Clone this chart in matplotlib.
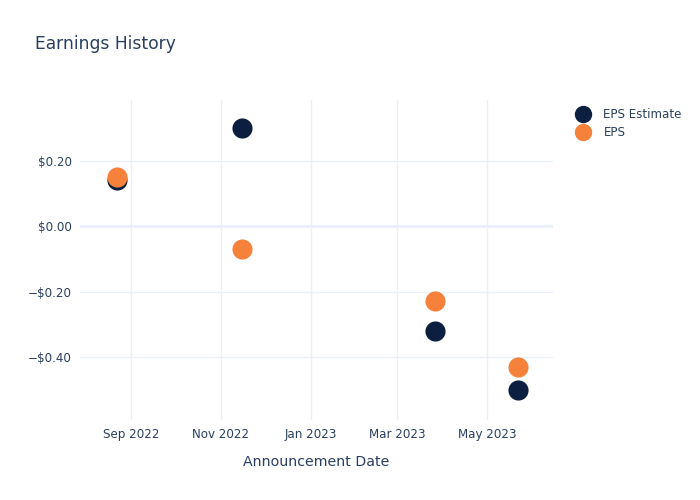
import numpy as np
import pandas as pd
from matplotlib import pyplot as plt
import matplotlib.dates as mdates
from matplotlib.ticker import FuncFormatter
from matplotlib.lines import Line2D

# Данные
dates = pd.to_datetime(['2022-08-22', '2022-11-15', '2023-03-27', '2023-05-22'])
eps_estimate = [0.14, 0.30, -0.32, -0.50]
eps_actual = [0.15, -0.07, -0.23, -0.43]

navy = '#0c1f41'
orange = '#f5813a'
text_col = '#2a3f5f'
grid_col = '#ebf0f8'

plt.rcParams['font.family'] = ['DejaVu Sans']

fig = plt.figure(figsize=(7, 5), dpi=100)
ax = fig.add_axes([80 / 700, 80 / 500, 473 / 700, 320 / 500])

ax.scatter(dates, eps_estimate, s=210, color=navy, zorder=3, linewidths=0)
ax.scatter(dates, eps_actual, s=210, color=orange, zorder=4, linewidths=0)

ax.set_xlim(pd.Timestamp('2022-07-28'), pd.Timestamp('2023-06-15'))
ax.set_ylim(-0.592, 0.385)

ax.xaxis.set_major_locator(mdates.MonthLocator(bymonth=[1, 3, 5, 7, 9, 11]))
ax.xaxis.set_major_formatter(mdates.DateFormatter('%b %Y'))
ax.set_yticks([-0.4, -0.2, 0.0, 0.2])
ax.yaxis.set_major_formatter(FuncFormatter(
    lambda v, p: f'${v:.2f}' if v >= 0 else f'\u2212${-v:.2f}'))

ax.grid(True, color=grid_col, linewidth=1, zorder=0)
ax.axhline(0, color=grid_col, linewidth=2, zorder=1)
for s in ax.spines.values():
    s.set_visible(False)
ax.tick_params(length=0, colors=text_col, labelsize=8.6, pad=6)

ax.set_xlabel('Announcement Date', color=text_col, fontsize=10.2, labelpad=10)
fig.text(35 / 700, 1 - 44 / 500, 'Earnings History', color=text_col,
         fontsize=12.3, va='center', ha='left')

handles = [
    Line2D([], [], marker='o', linestyle='', markersize=11.5, color=navy),
    Line2D([], [], marker='o', linestyle='', markersize=11.5, color=orange),
]
leg = fig.legend(handles, ['EPS Estimate', 'EPS'], loc='upper left',
                 bbox_to_anchor=(576 / 700, 1 - 108 / 500), frameon=False,
                 fontsize=8.6, handletextpad=1.1, labelspacing=0.45,
                 handlelength=1.2, borderaxespad=0, borderpad=0)
for t in leg.get_texts():
    t.set_color(text_col)

fig.savefig('out.png', dpi=100)
